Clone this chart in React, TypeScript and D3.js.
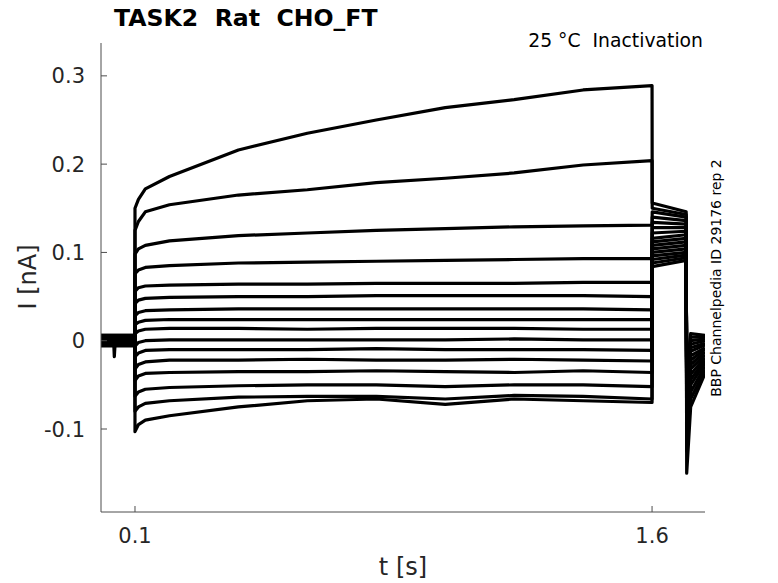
import { useEffect, useRef } from "react";
import * as d3 from "d3";

// sweep sample times during the 0.1 - 1.6 s test step
const testTimes = [0.1, 0.11, 0.13, 0.2, 0.4, 0.6, 0.8, 1.0, 1.2, 1.4, 1.6];

// current (nA) of each sweep at testTimes, top sweep first
const testCurrents = [
  [0.150, 0.160, 0.172, 0.186, 0.216, 0.235, 0.250, 0.264, 0.273, 0.284, 0.289],
  [0.125, 0.135, 0.146, 0.154, 0.165, 0.171, 0.179, 0.184, 0.190, 0.199, 0.204],
  [0.098, 0.104, 0.108, 0.113, 0.119, 0.122, 0.125, 0.127, 0.129, 0.130, 0.131],
  [0.076, 0.080, 0.083, 0.085, 0.088, 0.089, 0.090, 0.091, 0.092, 0.093, 0.093],
  [0.056, 0.060, 0.062, 0.063, 0.064, 0.064, 0.065, 0.065, 0.065, 0.066, 0.066],
  [0.042, 0.046, 0.048, 0.049, 0.050, 0.050, 0.051, 0.051, 0.051, 0.051, 0.050],
  [0.028, 0.032, 0.034, 0.035, 0.036, 0.036, 0.036, 0.036, 0.036, 0.036, 0.035],
  [0.018, 0.021, 0.023, 0.024, 0.024, 0.024, 0.024, 0.024, 0.024, 0.024, 0.024],
  [0.008, 0.011, 0.013, 0.014, 0.014, 0.013, 0.014, 0.014, 0.014, 0.013, 0.013],
  [-0.006, -0.002, 0.0, 0.001, 0.001, 0.001, 0.001, 0.001, 0.002, 0.001, 0.001],
  [-0.018, -0.014, -0.011, -0.010, -0.010, -0.010, -0.009, -0.010, -0.010, -0.010, -0.011],
  [-0.032, -0.027, -0.024, -0.022, -0.022, -0.021, -0.022, -0.022, -0.021, -0.022, -0.023],
  [-0.045, -0.040, -0.037, -0.036, -0.035, -0.035, -0.034, -0.035, -0.036, -0.034, -0.036],
  [-0.063, -0.058, -0.055, -0.053, -0.051, -0.050, -0.050, -0.052, -0.050, -0.050, -0.052],
  [-0.080, -0.075, -0.071, -0.068, -0.064, -0.063, -0.063, -0.066, -0.062, -0.063, -0.066],
  [-0.103, -0.095, -0.090, -0.085, -0.075, -0.068, -0.066, -0.072, -0.066, -0.068, -0.070],
];

// holding level before the step
const holdCurrents = [0.004, -0.003, 0.002, 0.006, -0.005, 0.0, 0.003, -0.006, 0.005, -0.002, 0.001, -0.004, 0.006, -0.001, 0.002, -0.005];
const holdDip = [[0.038, 0.0], [0.040, -0.019], [0.043, 0.0]]; // one sweep only

// second step 1.6 - 1.7 s
const postStart = [0.156, 0.150, 0.146, 0.140, 0.134, 0.128, 0.122, 0.116, 0.112, 0.108, 0.104, 0.100, 0.096, 0.092, 0.088, 0.084];
const postEnd = [0.146, 0.143, 0.140, 0.136, 0.132, 0.128, 0.124, 0.120, 0.116, 0.112, 0.108, 0.104, 0.100, 0.097, 0.094, 0.091];

// tail after 1.7 s
const tailMin = [-0.150, -0.125, -0.110, -0.100, -0.092, -0.085, -0.080, -0.075, -0.070, -0.066, -0.062, -0.058, -0.055, -0.052, -0.049, -0.046];
const tailMid = [-0.075, -0.066, -0.058, -0.050, -0.044, -0.038, -0.032, -0.027, -0.022, -0.017, -0.012, -0.008, -0.004, 0.0, 0.004, 0.008];
const tailEnd = [-0.037, -0.033, -0.029, -0.025, -0.022, -0.019, -0.016, -0.013, -0.010, -0.008, -0.005, -0.003, 0.0, 0.002, 0.004, 0.006];

const xTicks = [0.1, 1.6];
const yTicks = [-0.1, 0, 0.1, 0.2, 0.3];

export default function App() {
  const ref = useRef<SVGSVGElement | null>(null);

  useEffect(() => {
    if (!ref.current) return;
    const W = 778;
    const H = 583;
    const margin = { top: 43, right: 73, bottom: 71, left: 101 };

    const svg = d3.select(ref.current);
    svg.selectAll("*").remove();
    svg.attr("width", W).attr("height", H);

    const x = d3.scaleLinear().domain([0.0014, 1.7536]).range([margin.left, W - margin.right]);
    const y = d3.scaleLinear().domain([-0.194, 0.3372]).range([H - margin.bottom, margin.top]);

    svg
      .append("defs")
      .append("clipPath")
      .attr("id", "plotclip")
      .append("rect")
      .attr("x", margin.left)
      .attr("y", margin.top)
      .attr("width", W - margin.left - margin.right)
      .attr("height", H - margin.top - margin.bottom);

    const line = d3
      .line<number[]>()
      .x((d) => x(d[0]))
      .y((d) => y(d[1]));

    const sweeps = testCurrents.map((vals, i) => {
      const pts: number[][] = [[0.0014, holdCurrents[i]]];
      if (i === 10) holdDip.forEach((p) => pts.push([p[0], p[1] + holdCurrents[i]]));
      pts.push([0.0999, holdCurrents[i]]);
      testTimes.forEach((t, j) => pts.push([t, vals[j]]));
      pts.push([1.6005, postStart[i]]);
      pts.push([1.699, postEnd[i]]);
      pts.push([1.7005, tailMin[i]]);
      pts.push([1.712, tailMid[i]]);
      pts.push([1.7536, tailEnd[i]]);
      return pts;
    });

    svg
      .append("g")
      .attr("clip-path", "url(#plotclip)")
      .selectAll("path")
      .data(sweeps)
      .join("path")
      .attr("fill", "none")
      .attr("stroke", "#000")
      .attr("stroke-width", 3.2)
      .attr("stroke-linejoin", "round")
      .attr("d", line);

    const axisColor = "#4d4d4d";
    const font = "DejaVu Sans, sans-serif";

    // axes lines (left and bottom only)
    svg
      .append("path")
      .attr("d", `M${margin.left},${margin.top}V${H - margin.bottom}H${W - margin.right}`)
      .attr("fill", "none")
      .attr("stroke", axisColor)
      .attr("stroke-width", 1);

    const yAxis = svg.append("g");
    yTicks.forEach((v) => {
      yAxis
        .append("line")
        .attr("x1", margin.left)
        .attr("x2", margin.left + 6)
        .attr("y1", y(v))
        .attr("y2", y(v))
        .attr("stroke", axisColor);
      yAxis
        .append("text")
        .attr("x", 85)
        .attr("y", y(v))
        .attr("dy", "0.36em")
        .attr("text-anchor", "end")
        .attr("font-family", font)
        .attr("font-size", 21)
        .attr("fill", "#262626")
        .text(String(v));
    });

    const xAxis = svg.append("g");
    xTicks.forEach((t) => {
      xAxis
        .append("line")
        .attr("x1", x(t))
        .attr("x2", x(t))
        .attr("y1", H - margin.bottom)
        .attr("y2", H - margin.bottom - 6)
        .attr("stroke", axisColor);
      xAxis
        .append("text")
        .attr("x", x(t))
        .attr("y", 543)
        .attr("text-anchor", "middle")
        .attr("font-family", font)
        .attr("font-size", 21)
        .attr("fill", "#262626")
        .text(t.toFixed(1));
    });

    svg
      .append("text")
      .attr("x", 403)
      .attr("y", 575)
      .attr("text-anchor", "middle")
      .attr("font-family", font)
      .attr("font-size", 24)
      .attr("fill", "#262626")
      .text("t [s]");

    svg
      .append("text")
      .attr("transform", "translate(36,277) rotate(-90)")
      .attr("text-anchor", "middle")
      .attr("font-family", font)
      .attr("font-size", 24)
      .attr("fill", "#262626")
      .text("I [nA]");

    svg
      .append("text")
      .attr("x", 114)
      .attr("y", 26)
      .attr("font-family", font)
      .attr("font-weight", "bold")
      .attr("font-size", 23.6)
      .attr("fill", "#000")
      .style("white-space", "pre")
      .text("TASK2  Rat  CHO_FT");

    svg
      .append("text")
      .attr("x", 703)
      .attr("y", 47)
      .attr("text-anchor", "end")
      .attr("font-family", font)
      .attr("font-size", 18.8)
      .attr("fill", "#000")
      .style("white-space", "pre")
      .text("25 °C  Inactivation");

    svg
      .append("text")
      .attr("transform", "translate(721,278) rotate(-90)")
      .attr("text-anchor", "middle")
      .attr("font-family", font)
      .attr("font-size", 14)
      .attr("fill", "#000")
      .text("BBP Channelpedia ID 29176 rep 2");
  }, []);

  return (
    <svg
      ref={ref}
      style={{ position: "absolute", left: 0, top: 0, background: "#fff", display: "block" }}
    />
  );
}
